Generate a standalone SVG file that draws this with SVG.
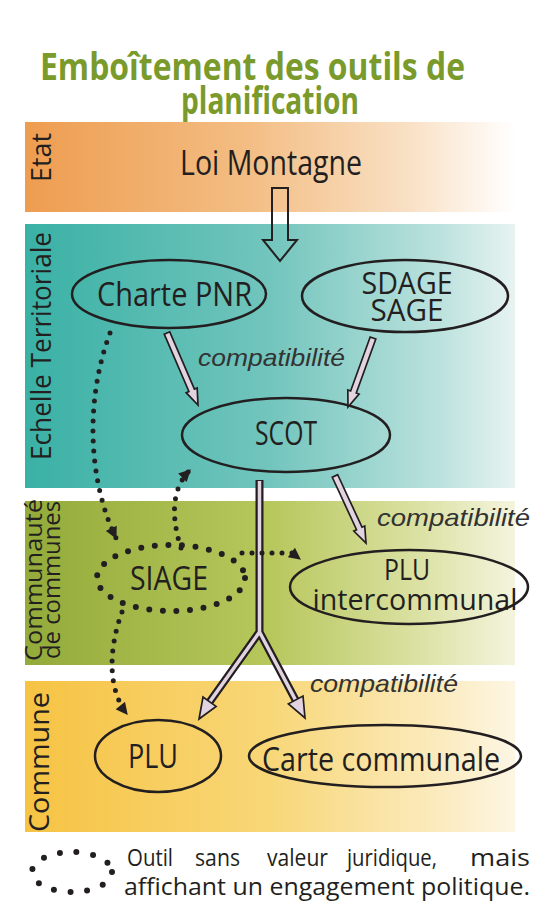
<svg xmlns="http://www.w3.org/2000/svg" width="539" height="906" viewBox="0 0 539 906">
<style>
.t{font-family:"Open Sans","Liberation Sans",sans-serif;fill:#231f20}
.title{font-family:"Open Sans","Liberation Sans",sans-serif;font-weight:bold;fill:#7a9a2c;font-size:37px}
.c{font-family:"Liberation Sans",Arial,sans-serif;font-style:italic;fill:#333;font-size:24px}
.node{fill:none;stroke:#231f20;stroke-width:2.5}
.dotted{fill:none;stroke:#231f20;stroke-width:6;stroke-linecap:round}
.dl{fill:none;stroke:#231f20;stroke-width:5;stroke-linecap:round;stroke-dasharray:0 10}
.carrow{fill:#e2d3e0;stroke:#231f20;stroke-width:1.7;stroke-linejoin:miter}
</style>
<defs>
<linearGradient id="gEtat" x1="0" x2="1" y1="0" y2="0">
<stop offset="0" stop-color="#ee9d50"/><stop offset="0.45" stop-color="#f3bd83"/><stop offset="0.78" stop-color="#f9e0c4"/><stop offset="1" stop-color="#ffffff"/>
</linearGradient>
<linearGradient id="gEch" x1="0" x2="1" y1="0" y2="0">
<stop offset="0" stop-color="#3ab1a5"/><stop offset="0.5" stop-color="#72c5bd"/><stop offset="0.85" stop-color="#bde2de"/><stop offset="1" stop-color="#e6f3f1"/>
</linearGradient>
<linearGradient id="gCom" x1="0" x2="1" y1="0" y2="0">
<stop offset="0" stop-color="#93ab3a"/><stop offset="0.5" stop-color="#b7c75c"/><stop offset="0.82" stop-color="#dde3a8"/><stop offset="1" stop-color="#f4f4de"/>
</linearGradient>
<linearGradient id="gCne" x1="0" x2="1" y1="0" y2="0">
<stop offset="0" stop-color="#f6c343"/><stop offset="0.5" stop-color="#f8d778"/><stop offset="0.85" stop-color="#fbebbf"/><stop offset="1" stop-color="#fdf6e4"/>
</linearGradient>
<marker id="ah" viewBox="0 0 10 10" refX="9" refY="5" markerUnits="userSpaceOnUse" markerWidth="13" markerHeight="12" orient="auto">
<path d="M0,0 L10,5 L0,10 z" fill="#231f20"/>
</marker>
</defs>

<g id="title">
<text class="title"><tspan x="40" y="80" textLength="425" lengthAdjust="spacingAndGlyphs">Emboîtement des outils de</tspan><tspan x="181" y="114" textLength="178" lengthAdjust="spacingAndGlyphs">planification</tspan></text>
</g>

<g id="bands">
<rect x="25" y="122" width="490" height="90" fill="url(#gEtat)"/>
<rect x="25" y="224" width="490" height="264" fill="url(#gEch)"/>
<rect x="25" y="501" width="490" height="164" fill="url(#gCom)"/>
<rect x="25" y="681" width="490" height="151" fill="url(#gCne)"/>
<text class="t" font-size="27" transform="translate(51,157.5) rotate(-90)" text-anchor="middle" textLength="49" lengthAdjust="spacingAndGlyphs">Etat</text>
<text class="t" font-size="27" transform="translate(51,346) rotate(-90)" text-anchor="middle" textLength="228" lengthAdjust="spacingAndGlyphs">Echelle Territoriale</text>
<text class="t" font-size="24" transform="translate(42,580) rotate(-90)" text-anchor="middle" textLength="162" lengthAdjust="spacingAndGlyphs">Communauté</text>
<text class="t" font-size="24" transform="translate(60,580) rotate(-90)" text-anchor="middle" textLength="158" lengthAdjust="spacingAndGlyphs">de communes</text>
<text class="t" font-size="27" transform="translate(49,762) rotate(-90)" text-anchor="middle" textLength="140" lengthAdjust="spacingAndGlyphs">Commune</text>
</g>

<g id="loi-montagne">
<text class="t" font-size="34" x="180" y="175" textLength="182" lengthAdjust="spacingAndGlyphs">Loi Montagne</text>
</g>

<g id="charte-pnr">
<ellipse class="node" cx="169" cy="294" rx="97" ry="34"/>
<text class="t" font-size="33" x="97" y="306" textLength="155" lengthAdjust="spacingAndGlyphs">Charte PNR</text>
</g>

<g id="sdage-sage">
<ellipse class="node" cx="405" cy="296" rx="103" ry="36"/>
<text class="t" font-size="31"><tspan x="361.5" y="294" textLength="91" lengthAdjust="spacingAndGlyphs">SDAGE</tspan><tspan x="370.5" y="321" textLength="73" lengthAdjust="spacingAndGlyphs">SAGE</tspan></text>
</g>

<g id="scot">
<ellipse class="node" cx="286" cy="435" rx="104" ry="37"/>
<text class="t" font-size="32" x="286" y="445" text-anchor="middle" textLength="62" lengthAdjust="spacingAndGlyphs">SCOT</text>
</g>

<g id="siage">
<ellipse class="dotted" cx="171" cy="578" rx="74" ry="33" stroke-dasharray="0 13.6"/>
<text class="t" font-size="33" x="169" y="590" text-anchor="middle" textLength="78" lengthAdjust="spacingAndGlyphs">SIAGE</text>
</g>

<g id="plu-intercommunal">
<ellipse class="node" cx="409" cy="587" rx="119" ry="37"/>
<text class="t" font-size="30"><tspan x="384" y="580" textLength="46" lengthAdjust="spacingAndGlyphs">PLU</tspan><tspan x="312.5" y="610" textLength="205" lengthAdjust="spacingAndGlyphs">intercommunal</tspan></text>
</g>

<g id="plu">
<ellipse class="node" cx="158" cy="756" rx="63" ry="36"/>
<text class="t" font-size="32" x="153" y="768" text-anchor="middle" textLength="50" lengthAdjust="spacingAndGlyphs">PLU</text>
</g>

<g id="carte-communale">
<ellipse class="node" cx="385" cy="756" rx="136" ry="31"/>
<text class="t" font-size="32" x="381" y="771" text-anchor="middle" textLength="238" lengthAdjust="spacingAndGlyphs">Carte communale</text>
</g>

<g id="connectors">
<polygon points="272,188 288,188 288,240 297,240 280,261 263,240 272,240" fill="none" stroke="#231f20" stroke-width="2"/>
<polygon class="carrow" points="169.75,331.81 194.42,389.12 197.18,387.94 198,405 186.16,392.68 188.92,391.5 164.25,334.19"/>
<polygon class="carrow" points="375.82,339.02 356.27,392.98 359.09,394.01 348,407 347.81,389.91 350.63,390.94 370.18,336.98"/>
<polygon class="carrow" points="337.72,474.74 362,527.21 364.73,525.95 366,543 353.83,530.99 356.56,529.73 332.28,477.26"/>
<path d="M259.5,480 L259.5,632 L209.4,702.3 M259.5,632 L295.6,700.1" fill="none" stroke="#231f20" stroke-width="8" stroke-linejoin="miter"/>
<path d="M259.5,481 L259.5,632 L209.4,702.3 M259.5,632 L295.6,700.1" fill="none" stroke="#e2d3e0" stroke-width="3.5" stroke-linejoin="miter"/>
<polygon class="carrow" points="199,719 216.1,706.4 203,697"/>
<polygon class="carrow" points="305,718 303,696 288.4,703.8"/>
<text class="c" x="198" y="366" textLength="147" lengthAdjust="spacingAndGlyphs">compatibilité</text>
<text class="c" x="377" y="526" textLength="153" lengthAdjust="spacingAndGlyphs">compatibilité</text>
<text class="c" x="310" y="692" textLength="148" lengthAdjust="spacingAndGlyphs">compatibilité</text>
<path class="dl" d="M110,333 C85,400 88,480 116,538" marker-end="url(#ah)"/>
<path class="dl" d="M181,548 C172,520 170,490 190,470" marker-end="url(#ah)"/>
<path class="dl" d="M242,553 L292,553 L300,559" marker-end="url(#ah)"/>
<path class="dl" d="M122,612 C108,650 108,690 127,714" marker-end="url(#ah)"/>
</g>

<g id="legend">
<ellipse class="dotted" cx="72" cy="872" rx="40" ry="20" stroke-width="5.5" stroke-dasharray="0 16.6"/>
<text class="t" font-size="23" x="127" y="866" textLength="46" lengthAdjust="spacingAndGlyphs">Outil</text>
<text class="t" font-size="23" x="195" y="866" textLength="45" lengthAdjust="spacingAndGlyphs">sans</text>
<text class="t" font-size="23" x="267" y="866" textLength="61" lengthAdjust="spacingAndGlyphs">valeur</text>
<text class="t" font-size="23" x="347" y="866" textLength="90" lengthAdjust="spacingAndGlyphs">juridique,</text>
<text class="t" font-size="23" x="470" y="866" textLength="60" lengthAdjust="spacingAndGlyphs">mais</text>
<text class="t" font-size="23" x="124" y="895" textLength="406" lengthAdjust="spacingAndGlyphs">affichant un engagement politique.</text>
</g>
</svg>
